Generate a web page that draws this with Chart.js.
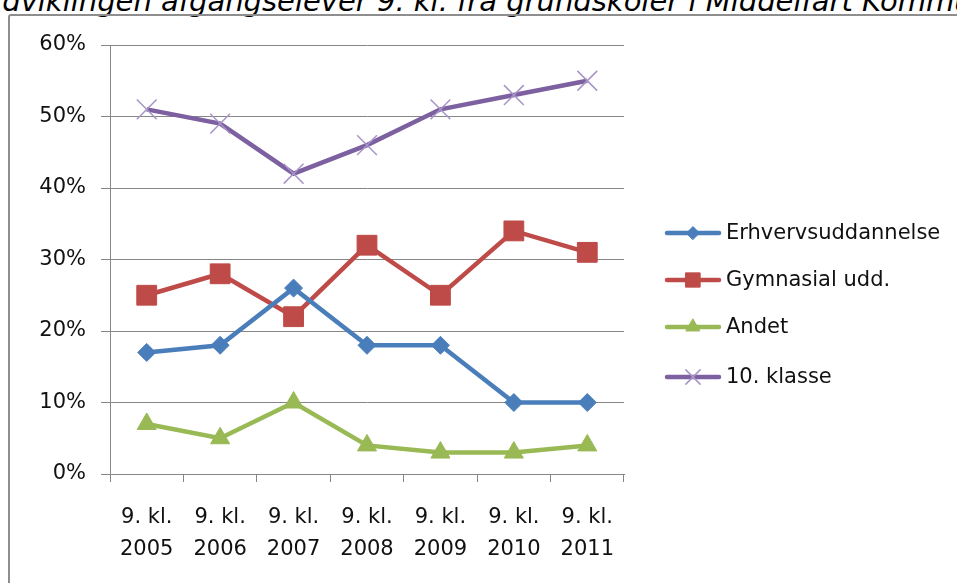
<!DOCTYPE html>
<html>
<head>
<meta charset="utf-8">
<script src="https://cdn.jsdelivr.net/npm/chart.js@4.4.1/dist/chart.umd.min.js"></script>
<style>
  body { margin:0; width:957px; height:583px; overflow:hidden; background:#fff; position:relative; font-family:"DejaVu Sans", sans-serif; }
  #title { position:absolute; left:-19px; top:-13px; font-size:29px; line-height:29px; font-style:italic; white-space:nowrap; color:#000; }
  #box { position:absolute; left:8px; top:14px; width:980px; height:600px; border:2px solid #8e8e8e; border-radius:3px; }
  #wrap { position:absolute; left:0; top:0; width:957px; height:583px; }
</style>
</head>
<body>
<div id="title">Udviklingen afgangselever 9. kl. fra grundskoler i Middelfart Kommune</div>
<div id="box"></div>
<div id="wrap"><canvas id="c" width="957" height="583"></canvas></div>
<script>
// categories and series (percent)
const YEARS = ['2005','2006','2007','2008','2009','2010','2011'];
const ERHVERV    = [17, 18, 26, 18, 18, 10, 10];
const GYMNASIAL  = [25, 28, 22, 32, 25, 34, 31];
const ANDET      = [7, 5, 10, 4, 3, 3, 4];
const KLASSE10   = [51, 49, 42, 46, 51, 53, 55];
const Y_TICKS    = [0, 10, 20, 30, 40, 50, 60];

const FONT = '"DejaVu Sans", sans-serif';
const TXT = '#111';

const labels = YEARS.map(y => ['9. kl.', y]);

function series(label, data, color, style, radius, markerColor, markerWidth) {
  return {
    label, data,
    borderColor: color, backgroundColor: color,
    borderWidth: 4.5, tension: 0,
    pointStyle: style, pointRadius: radius, pointHoverRadius: radius,
    pointBackgroundColor: markerColor || color,
    pointBorderColor: markerColor || color,
    pointBorderWidth: markerWidth || 1,
  };
}

// legend: line + (smaller) marker, drawn to the right of the plot
const sideLegend = {
  id: 'sideLegend',
  afterDraw(chart) {
    const ctx = chart.ctx;
    const rows = [233, 280, 327, 377];
    chart.data.datasets.forEach((ds, i) => {
      const y = rows[i];
      ctx.save();
      ctx.strokeStyle = ds.borderColor;
      ctx.lineWidth = 4.5;
      ctx.lineCap = 'round';
      ctx.beginPath(); ctx.moveTo(667, y); ctx.lineTo(719, y); ctx.stroke();
      ctx.fillStyle = ds.pointBackgroundColor;
      ctx.strokeStyle = ds.pointBorderColor;
      ctx.lineWidth = ds.pointBorderWidth;
      Chart.helpers.drawPoint(ctx, {
        pointStyle: ds.pointStyle, rotation: 0,
        radius: ds.pointRadius * 0.72, borderWidth: ds.pointBorderWidth,
      }, 693, y);
      ctx.fillStyle = TXT;
      ctx.font = '21px ' + FONT;
      ctx.textBaseline = 'middle';
      ctx.fillText(ds.label, 726, y + 1);
      ctx.restore();
    });
  }
};

new Chart(document.getElementById('c'), {
  type: 'line',
  data: {
    labels,
    datasets: [
      series('Erhvervsuddannelse', ERHVERV, '#4a7ebb', 'rectRot', 9),
      series('Gymnasial udd.', GYMNASIAL, '#be4b48', 'rect', 14),
      series('Andet', ANDET, '#98b954', 'triangle', 11),
      series('10. klasse', KLASSE10, '#7d60a0', 'crossRot', 14, '#a894c8', 1.5),
    ],
  },
  options: {
    responsive: false, animation: false, devicePixelRatio: 1,
    layout: { padding: { left: 0, top: 45, right: 333, bottom: 0 } },
    plugins: { legend: { display: false }, tooltip: { enabled: false } },
    scales: {
      x: {
        offset: true,
        grid: { offset: true, drawOnChartArea: false, drawTicks: true, tickLength: 8, color: '#868686' },
        border: { color: '#868686', width: 1 },
        ticks: { color: TXT, font: { family: FONT, size: 21, lineHeight: 1.5 }, padding: 20, maxRotation: 0 },
        afterFit: s => { s.height = 109; },
      },
      y: {
        min: 0, max: 60,
        afterBuildTicks: s => { s.ticks = Y_TICKS.map(v => ({ value: v })); },
        grid: { color: '#868686', tickLength: 9 },
        border: { color: '#868686', width: 1 },
        ticks: { color: TXT, font: { family: FONT, size: 21 }, padding: 15, callback: v => v + '%' },
        afterFit: s => { s.width = 110; },
      },
    },
  },
  plugins: [sideLegend],
});
</script>
</body>
</html>
